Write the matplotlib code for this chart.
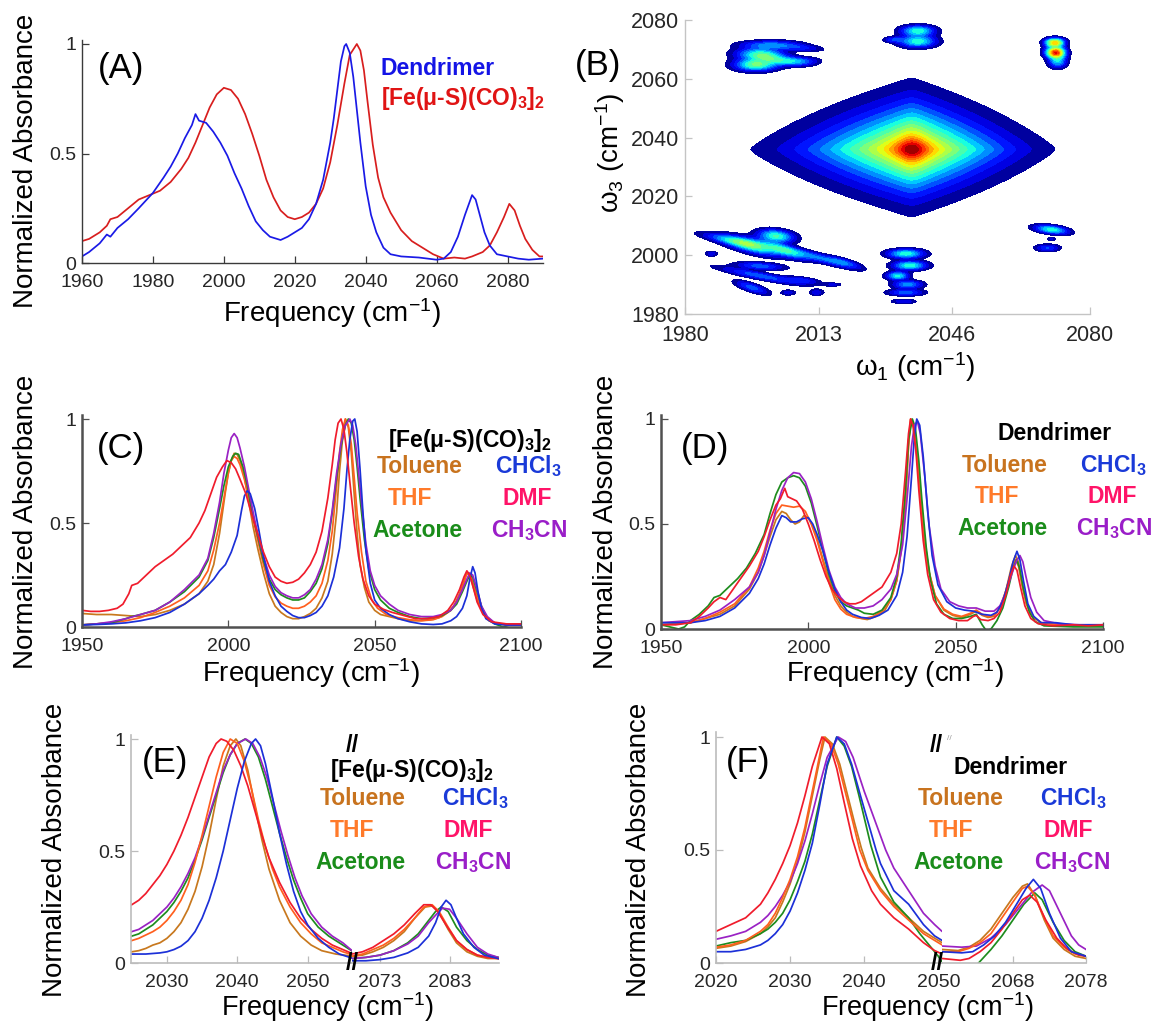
import numpy as np
import matplotlib
matplotlib.use('Agg')
import matplotlib.pyplot as plt

plt.rcParams['font.family'] = ['Liberation Sans', 'DejaVu Sans']
plt.rcParams['mathtext.default'] = 'regular'

# ---------------- (A) FTIR, dendrimer vs. parent complex ----------------
A_DENDRIMER = [(1960, 0.03), (1962, 0.05), (1965, 0.09), (1967, 0.13), (1968, 0.12), (1970, 0.16),
               (1973, 0.2), (1976, 0.25), (1980, 0.32), (1983, 0.39), (1985, 0.44), (1987, 0.5),
               (1989, 0.57), (1991, 0.63), (1992, 0.68), (1993, 0.65), (1995, 0.64), (1997, 0.6),
               (1999, 0.55), (2001, 0.49), (2003, 0.41), (2005, 0.34), (2007, 0.26), (2009, 0.19),
               (2011, 0.15), (2013, 0.12), (2015, 0.11), (2016, 0.105), (2018, 0.12), (2020, 0.14),
               (2022, 0.16), (2024, 0.2), (2026, 0.27), (2028, 0.38), (2030, 0.55), (2031, 0.66),
               (2032, 0.79), (2033, 0.92), (2034, 0.99), (2034.5, 1.0), (2035.5, 0.96), (2036.5, 0.85),
               (2037.5, 0.7), (2038.5, 0.55), (2040, 0.35), (2041.5, 0.22), (2043, 0.14), (2045, 0.07),
               (2047, 0.04), (2050, 0.03), (2055, 0.025), (2060, 0.015), (2062, 0.02), (2064, 0.05),
               (2066, 0.12), (2068, 0.22), (2070, 0.31), (2071, 0.29), (2072, 0.23), (2073.5, 0.14),
               (2075, 0.08), (2077, 0.04), (2080, 0.03), (2083, 0.02), (2086, 0.015), (2090, 0.02)]
A_COMPLEX = [(1960, 0.1), (1962, 0.11), (1965, 0.14), (1967, 0.17), (1968, 0.2), (1970, 0.21),
             (1973, 0.25), (1976, 0.29), (1979, 0.31), (1982, 0.33), (1985, 0.37), (1988, 0.43),
             (1990, 0.48), (1992, 0.55), (1994, 0.63), (1996, 0.71), (1998, 0.77), (2000, 0.8),
             (2002, 0.79), (2004, 0.75), (2006, 0.68), (2008, 0.59), (2010, 0.49), (2012, 0.38),
             (2014, 0.3), (2016, 0.24), (2018, 0.21), (2020, 0.2), (2022, 0.21), (2024, 0.23),
             (2026, 0.27), (2028, 0.34), (2030, 0.46), (2032, 0.63), (2034, 0.82), (2035.5, 0.95),
             (2037.5, 1.0), (2038.5, 0.97), (2039.5, 0.88), (2040.5, 0.74), (2042, 0.54),
             (2043.5, 0.39), (2045, 0.3), (2047, 0.23), (2050, 0.15), (2053, 0.1), (2056, 0.07),
             (2059, 0.04), (2062, 0.02), (2065, 0.025), (2068, 0.02), (2070, 0.03), (2073, 0.05),
             (2075, 0.08), (2077, 0.14), (2079, 0.21), (2080.5, 0.27), (2082, 0.24), (2083.5, 0.17),
             (2085, 0.11), (2087, 0.06), (2089, 0.03), (2090, 0.03)]

# ---------------- (B) 2D IR peaks: main diagonal peak + cross peaks ----------------
B_MAIN_CENTER = (2036.0, 2036.0)
B_MAIN_BASE_WIDTHS = (17.5, 15.5, 9.8, 10.4)   # left, right, down, up
B_MAIN_BASE_AMP = 0.6
B_MAIN_CORE_WIDTHS = (4.2, 3.8)                # omega1, omega3
B_MAIN_CORE_AMP = 0.4
# x0, y0, sx, sy, tilt (deg), amplitude
B_CROSS_PEAKS = [
    (1997.5, 2064.8, 3.5, 1.4, 0, 0.5), (1998.5, 2068.5, 4.0, 1.3, 0, 0.38),
    (2003.0, 2066.5, 4.0, 1.1, -10, 0.3), (2001.0, 2071.5, 5.0, 1.0, 0, 0.28),
    (2008.5, 2066.0, 3.0, 0.9, 0, 0.22), (2009.0, 2070.5, 3.5, 0.7, -5, 0.15),
    (2037.5, 2076.3, 2.8, 1.2, 0, 0.42), (2037.5, 2072.7, 3.0, 1.3, 0, 0.42),
    (2031.5, 2073.3, 1.6, 0.6, 0, 0.18),
    (2071.5, 2069.0, 1.6, 1.2, 0, 0.85), (2071.3, 2072.3, 1.6, 1.0, 0, 0.7),
    (2072.0, 2066.0, 1.5, 1.5, 0, 0.35),
    (2070.5, 2008.7, 2.8, 0.9, -10, 0.42), (2070.5, 2005.5, 0.8, 0.4, 0, 0.12),
    (2069.5, 2002.5, 2.0, 0.8, 0, 0.22),
    (2034.5, 2000.5, 3.0, 1.0, 0, 0.42), (2035.5, 1996.5, 2.8, 1.0, 0, 0.42),
    (2032.5, 1993.0, 1.8, 0.9, 0, 0.4), (2035.0, 1990.0, 2.5, 0.9, 0, 0.3),
    (2034.5, 1987.3, 3.0, 0.7, 0, 0.25), (2034.0, 1984.3, 2.0, 0.5, 0, 0.16),
    (1991.0, 2005.2, 5.0, 0.9, -15, 0.22), (1996.5, 2003.2, 5.0, 1.5, -20, 0.45),
    (2002.5, 2006.5, 3.0, 1.4, -10, 0.45), (2005.0, 2001.5, 4.0, 1.1, -25, 0.35),
    (2013.5, 1999.0, 5.5, 0.9, -22, 0.25), (2019.5, 1997.5, 3.0, 0.8, -22, 0.2),
    (1998.5, 1996.3, 4.0, 0.8, -5, 0.25), (1998.5, 1993.0, 7.0, 0.8, -15, 0.25),
    (2009.0, 1991.5, 3.0, 0.7, -10, 0.18), (1996.5, 1989.0, 3.0, 0.9, -25, 0.25),
    (1986.5, 2000.5, 1.0, 0.6, 0, 0.15), (2005.5, 1987.3, 1.2, 0.6, 0, 0.15),
    (2012.5, 1987.3, 1.2, 0.7, 0, 0.15), (2016.5, 1990.0, 1.5, 0.4, 0, 0.12),
]

# ---------------- (C) [Fe(mu-S)(CO)3]2 in six solvents ----------------
C_TOLUENE = [(1950, 0.065), (1955, 0.06), (1960, 0.06), (1965, 0.055), (1970, 0.05), (1975, 0.06),
             (1980, 0.08), (1985, 0.11), (1990, 0.16), (1993, 0.22), (1995, 0.3), (1997, 0.45),
             (1998, 0.55), (1999, 0.65), (2000, 0.74), (2001, 0.8), (2002, 0.835), (2003, 0.83),
             (2004, 0.8), (2005.5, 0.72), (2007, 0.6), (2008.5, 0.48), (2010, 0.38), (2012, 0.26),
             (2014, 0.16), (2016, 0.1), (2018, 0.07), (2020, 0.05), (2022, 0.04), (2024, 0.04),
             (2026, 0.05), (2028, 0.065), (2030, 0.09), (2032, 0.14), (2034, 0.22), (2035.5, 0.35),
             (2037, 0.55), (2038, 0.75), (2039, 0.9), (2040, 1.0), (2041, 0.96), (2042, 0.84),
             (2043, 0.64), (2044, 0.45), (2045, 0.3), (2046.5, 0.19), (2048, 0.12), (2050, 0.08),
             (2052, 0.06), (2055, 0.05), (2058, 0.04), (2062, 0.03), (2065, 0.03), (2069, 0.035),
             (2072, 0.045), (2075, 0.07), (2077, 0.1), (2079, 0.16), (2080.5, 0.22), (2081.5, 0.26),
             (2082.5, 0.25), (2083.5, 0.2), (2085, 0.13), (2087, 0.07), (2089, 0.03), (2092, 0.015),
             (2096, 0.01), (2100, 0.01)]
C_THF = [(1950, 0.01), (1955, 0.015), (1960, 0.02), (1965, 0.03), (1970, 0.045), (1975, 0.07),
         (1980, 0.1), (1985, 0.14), (1990, 0.2), (1993, 0.27), (1995, 0.37), (1997, 0.5),
         (1998.5, 0.62), (2000, 0.74), (2001, 0.8), (2002, 0.82), (2003, 0.81), (2004, 0.78),
         (2005.5, 0.71), (2007, 0.62), (2008.5, 0.52), (2010, 0.42), (2012, 0.3), (2014, 0.2),
         (2016, 0.145), (2018, 0.115), (2020, 0.1), (2022, 0.09), (2024, 0.09), (2026, 0.1),
         (2028, 0.12), (2030, 0.15), (2032, 0.21), (2034, 0.32), (2035.5, 0.46), (2037, 0.68),
         (2038, 0.84), (2039, 0.95), (2040, 1.0), (2041, 0.97), (2042, 0.88), (2043, 0.72),
         (2044, 0.55), (2045.5, 0.36), (2047, 0.22), (2049, 0.13), (2051, 0.09), (2054, 0.06),
         (2058, 0.045), (2062, 0.035), (2066, 0.03), (2070, 0.035), (2073, 0.05), (2076, 0.08),
         (2078, 0.12), (2080, 0.19), (2081.3, 0.25), (2082, 0.26), (2083, 0.24), (2084.5, 0.17),
         (2086, 0.1), (2088, 0.05), (2091, 0.02), (2095, 0.01), (2100, 0.01)]
C_ACETONE = [(1950, 0.01), (1955, 0.015), (1960, 0.02), (1965, 0.04), (1967, 0.05), (1970, 0.06),
             (1975, 0.08), (1980, 0.12), (1985, 0.17), (1990, 0.24), (1993, 0.32), (1995, 0.43),
             (1997, 0.57), (1998.5, 0.68), (2000, 0.77), (2001.5, 0.82), (2002.5, 0.835),
             (2003.5, 0.83), (2005, 0.77), (2006.5, 0.68), (2008, 0.56), (2010, 0.44), (2012, 0.32),
             (2014, 0.23), (2016, 0.18), (2018, 0.155), (2020, 0.14), (2022, 0.13), (2024, 0.13),
             (2026, 0.14), (2028, 0.17), (2030, 0.21), (2032, 0.28), (2034, 0.4), (2035.5, 0.55),
             (2037, 0.72), (2038.5, 0.87), (2040, 0.97), (2041, 1.0), (2042, 0.98), (2043, 0.9),
             (2044, 0.77), (2045, 0.62), (2046.5, 0.42), (2048, 0.28), (2050, 0.18), (2052, 0.13),
             (2055, 0.09), (2058, 0.07), (2062, 0.05), (2066, 0.04), (2070, 0.045), (2073, 0.055),
             (2076, 0.08), (2078, 0.11), (2080, 0.17), (2081.5, 0.22), (2082.5, 0.25),
             (2083.5, 0.24), (2085, 0.17), (2086.5, 0.1), (2088.5, 0.04), (2091, 0.015),
             (2094, 0.0), (2096, 0.01), (2100, 0.01)]
C_CHCL3 = [(1950, 0.01), (1955, 0.012), (1960, 0.015), (1965, 0.02), (1970, 0.03), (1975, 0.045),
           (1980, 0.07), (1985, 0.11), (1988, 0.14), (1990, 0.16), (1993, 0.2), (1995, 0.23),
           (1997, 0.27), (1999, 0.3), (2001, 0.36), (2003, 0.44), (2004.5, 0.56), (2005.5, 0.63),
           (2006.5, 0.655), (2007.5, 0.64), (2009, 0.57), (2010.5, 0.46), (2012, 0.34), (2014, 0.22),
           (2016, 0.15), (2018, 0.1), (2020, 0.075), (2022, 0.055), (2024, 0.045), (2026, 0.045),
           (2028, 0.055), (2030, 0.07), (2032, 0.1), (2034, 0.15), (2036, 0.24), (2038, 0.38),
           (2039.5, 0.57), (2040.5, 0.75), (2041.5, 0.9), (2042.5, 0.99), (2043.2, 1.0),
           (2044, 0.94), (2045, 0.76), (2046, 0.55), (2047, 0.37), (2048.5, 0.21), (2050, 0.13),
           (2052, 0.09), (2055, 0.06), (2058, 0.04), (2062, 0.025), (2066, 0.015), (2070, 0.012),
           (2073, 0.015), (2076, 0.03), (2078, 0.05), (2080, 0.09), (2081.5, 0.15), (2082.5, 0.23),
           (2083.5, 0.29), (2084.3, 0.26), (2085.3, 0.17), (2086.5, 0.09), (2088, 0.04),
           (2091, 0.015), (2095, 0.01), (2100, 0.01)]
C_DMF = [(1950, 0.08), (1953, 0.075), (1956, 0.075), (1959, 0.08), (1962, 0.09), (1964, 0.11),
         (1966, 0.16), (1967, 0.2), (1969, 0.21), (1972, 0.25), (1975, 0.29), (1978, 0.32),
         (1981, 0.35), (1984, 0.39), (1987, 0.43), (1990, 0.5), (1992, 0.56), (1994, 0.64),
         (1996, 0.72), (1998, 0.77), (1999.5, 0.8), (2001, 0.79), (2002.5, 0.76), (2004, 0.71),
         (2006, 0.64), (2008, 0.54), (2010, 0.45), (2012, 0.36), (2014, 0.29), (2016, 0.24),
         (2018, 0.22), (2020, 0.21), (2022, 0.215), (2024, 0.23), (2026, 0.26), (2028, 0.3),
         (2030, 0.36), (2032, 0.46), (2034, 0.62), (2035.5, 0.78), (2036.5, 0.9), (2037.5, 0.98),
         (2038.5, 1.0), (2039.5, 0.95), (2040.5, 0.84), (2041.5, 0.7), (2043, 0.5), (2044.5, 0.34),
         (2046, 0.23), (2048, 0.15), (2050, 0.11), (2053, 0.085), (2056, 0.07), (2060, 0.055),
         (2064, 0.04), (2068, 0.04), (2072, 0.05), (2075, 0.08), (2077, 0.12), (2079, 0.18),
         (2080.5, 0.24), (2081.5, 0.27), (2082.5, 0.25), (2083.5, 0.2), (2085, 0.12), (2087, 0.06),
         (2090, 0.025), (2095, 0.015), (2100, 0.015)]
C_CH3CN = [(1950, 0.01), (1955, 0.015), (1960, 0.025), (1965, 0.04), (1970, 0.06), (1975, 0.08),
           (1980, 0.12), (1985, 0.18), (1990, 0.25), (1993, 0.33), (1995, 0.45), (1997, 0.6),
           (1998.5, 0.74), (2000, 0.85), (2001, 0.91), (2002, 0.93), (2003, 0.91), (2004, 0.86),
           (2005.5, 0.77), (2007, 0.66), (2008.5, 0.55), (2010, 0.45), (2012, 0.34), (2014, 0.25),
           (2016, 0.195), (2018, 0.165), (2020, 0.15), (2022, 0.14), (2024, 0.14), (2026, 0.155),
           (2028, 0.18), (2030, 0.23), (2032, 0.3), (2034, 0.42), (2035.5, 0.56), (2037, 0.74),
           (2038.5, 0.88), (2040, 0.97), (2041.5, 1.0), (2042.5, 0.97), (2043.5, 0.88),
           (2044.5, 0.74), (2045.5, 0.6), (2047, 0.4), (2048.5, 0.27), (2050, 0.2), (2052, 0.15),
           (2055, 0.11), (2058, 0.08), (2062, 0.06), (2066, 0.05), (2070, 0.05), (2073, 0.06),
           (2076, 0.08), (2078, 0.12), (2080, 0.18), (2081.5, 0.23), (2082.5, 0.26), (2083.5, 0.25),
           (2085, 0.18), (2086.5, 0.1), (2088.5, 0.05), (2091, 0.02), (2095, 0.01), (2100, 0.01)]

# ---------------- (D) dendrimer in six solvents ----------------
D_TOLUENE = [(1950, 0.02), (1955, 0.025), (1960, 0.03), (1965, 0.05), (1970, 0.07), (1975, 0.11),
             (1980, 0.19), (1983, 0.27), (1985, 0.35), (1987, 0.44), (1989, 0.52), (1991, 0.56),
             (1992.5, 0.55), (1994, 0.52), (1995.5, 0.5), (1997, 0.51), (1998.5, 0.54), (2000, 0.53),
             (2001.5, 0.49), (2003, 0.43), (2005, 0.33), (2007, 0.24), (2009, 0.16), (2011, 0.11),
             (2013, 0.08), (2015, 0.06), (2018, 0.05), (2020, 0.045), (2023, 0.06), (2026, 0.09),
             (2028, 0.14), (2030, 0.23), (2031.5, 0.37), (2033, 0.61), (2034, 0.87), (2034.8, 1.0),
             (2035.8, 0.96), (2037, 0.8), (2038, 0.63), (2039.5, 0.41), (2041, 0.27), (2043, 0.16),
             (2046, 0.09), (2049, 0.065), (2052, 0.055), (2055, 0.07), (2057, 0.085), (2059, 0.065),
             (2061, 0.055), (2063, 0.06), (2065, 0.1), (2067, 0.18), (2069, 0.3), (2070.3, 0.35),
             (2071.3, 0.32), (2072.5, 0.22), (2074, 0.12), (2076, 0.06), (2079, 0.03), (2085, 0.02),
             (2092, 0.015), (2100, 0.02)]
D_THF = [(1950, 0.02), (1955, 0.025), (1960, 0.03), (1965, 0.05), (1970, 0.08), (1975, 0.12),
         (1980, 0.2), (1983, 0.29), (1985, 0.37), (1987, 0.47), (1989, 0.55), (1991, 0.59),
         (1993, 0.585), (1995, 0.58), (1997, 0.585), (1999, 0.56), (2001, 0.5), (2003, 0.42),
         (2005, 0.32), (2007, 0.22), (2009, 0.14), (2011, 0.095), (2013, 0.07), (2016, 0.055),
         (2019, 0.05), (2022, 0.06), (2025, 0.085), (2028, 0.14), (2030, 0.23), (2031.5, 0.38),
         (2033, 0.63), (2034, 0.88), (2034.7, 1.0), (2035.7, 0.97), (2037, 0.81), (2038, 0.64),
         (2039.5, 0.42), (2041, 0.27), (2043, 0.16), (2046, 0.095), (2049, 0.07), (2052, 0.06),
         (2055, 0.075), (2057, 0.09), (2059, 0.07), (2061, 0.06), (2063, 0.065), (2065, 0.1),
         (2067, 0.18), (2069, 0.28), (2070.3, 0.33), (2071.3, 0.3), (2072.5, 0.21), (2074, 0.12),
         (2076, 0.06), (2079, 0.03), (2085, 0.02), (2092, 0.015), (2100, 0.02)]
D_ACETONE = [(1950, 0.02), (1953, 0.01), (1956, 0.0), (1958, 0.01), (1960, 0.04), (1963, 0.07),
             (1966, 0.11), (1968, 0.15), (1970, 0.16), (1973, 0.2), (1976, 0.24), (1979, 0.29),
             (1982, 0.36), (1985, 0.45), (1987, 0.55), (1989, 0.64), (1991, 0.7), (1993, 0.72),
             (1995, 0.73), (1997, 0.72), (1999, 0.68), (2001, 0.6), (2003, 0.49), (2005, 0.37),
             (2007, 0.26), (2009, 0.18), (2011, 0.13), (2013, 0.11), (2015, 0.1), (2017, 0.09),
             (2019, 0.075), (2022, 0.07), (2025, 0.09), (2028, 0.15), (2030, 0.25), (2031.5, 0.41),
             (2033, 0.67), (2034, 0.9), (2035.3, 1.0), (2036.3, 0.96), (2037.5, 0.8),
             (2038.5, 0.62), (2040, 0.39), (2041.5, 0.23), (2043.5, 0.12), (2046, 0.07), (2049, 0.05),
             (2052, 0.05), (2055, 0.06), (2057, 0.07), (2059, 0.02), (2060.5, -0.01), (2062, 0.0),
             (2064, 0.04), (2066, 0.1), (2068, 0.2), (2069.5, 0.29), (2070.7, 0.33), (2071.7, 0.29),
             (2073, 0.19), (2075, 0.08), (2077, 0.035), (2080, 0.015), (2090, 0.01), (2100, 0.01)]
D_CHCL3 = [(1950, 0.03), (1955, 0.03), (1960, 0.03), (1965, 0.04), (1970, 0.06), (1975, 0.1),
           (1980, 0.17), (1983, 0.24), (1985, 0.31), (1987, 0.4), (1989, 0.48), (1991, 0.54),
           (1992.5, 0.53), (1994, 0.51), (1996, 0.51), (1998, 0.525), (2000, 0.53), (2001.5, 0.5),
           (2003, 0.45), (2005, 0.37), (2007, 0.27), (2009, 0.19), (2011, 0.13), (2013, 0.09),
           (2015, 0.07), (2018, 0.055), (2021, 0.05), (2024, 0.065), (2027, 0.09), (2030, 0.16),
           (2032, 0.27), (2033.5, 0.44), (2035, 0.72), (2036, 0.92), (2036.8, 1.0), (2037.8, 0.97),
           (2039, 0.82), (2040.5, 0.56), (2042, 0.35), (2044, 0.21), (2047, 0.13), (2050, 0.1),
           (2053, 0.09), (2056, 0.085), (2059, 0.07), (2062, 0.065), (2064, 0.08), (2066, 0.13),
           (2068, 0.23), (2069.5, 0.32), (2070.8, 0.37), (2071.8, 0.33), (2073, 0.23),
           (2074.5, 0.12), (2076.5, 0.06), (2079, 0.03), (2084, 0.03), (2090, 0.02), (2100, 0.02)]
D_DMF = [(1950, 0.02), (1955, 0.02), (1960, 0.03), (1963, 0.06), (1966, 0.1), (1968, 0.13),
         (1970, 0.15), (1972, 0.14), (1974, 0.18), (1977, 0.24), (1980, 0.3), (1983, 0.37),
         (1985, 0.44), (1987, 0.52), (1989, 0.59), (1990.5, 0.62), (1992, 0.67), (1993, 0.63),
         (1994.5, 0.62), (1996, 0.61), (1998, 0.57), (2000, 0.5), (2002, 0.42), (2004, 0.33),
         (2006, 0.25), (2008, 0.19), (2010, 0.155), (2012, 0.13), (2014, 0.12), (2016, 0.12),
         (2018, 0.13), (2020, 0.15), (2022, 0.17), (2025, 0.2), (2028, 0.27), (2030, 0.36),
         (2031.5, 0.5), (2033, 0.75), (2034, 0.93), (2034.7, 1.0), (2035.5, 0.97), (2036.5, 0.85),
         (2037.5, 0.66), (2039, 0.42), (2040.5, 0.26), (2042.5, 0.14), (2045, 0.08), (2048, 0.05),
         (2051, 0.04), (2054, 0.04), (2056, 0.06), (2057, 0.065), (2058.5, 0.045), (2061, 0.04),
         (2063, 0.05), (2065, 0.08), (2067, 0.16), (2068.5, 0.25), (2069.8, 0.3), (2070.8, 0.28),
         (2072, 0.2), (2073.5, 0.11), (2075.5, 0.05), (2078, 0.025), (2083, 0.015), (2090, 0.02),
         (2095, 0.015), (2100, 0.02)]
D_CH3CN = [(1950, 0.03), (1955, 0.035), (1960, 0.04), (1965, 0.06), (1970, 0.09), (1975, 0.14),
           (1980, 0.2), (1983, 0.27), (1985, 0.35), (1987, 0.46), (1989, 0.57), (1991, 0.66),
           (1993, 0.72), (1995, 0.745), (1997, 0.74), (1999, 0.7), (2001, 0.62), (2003, 0.51),
           (2005, 0.39), (2007, 0.28), (2009, 0.2), (2011, 0.15), (2013, 0.12), (2016, 0.1),
           (2019, 0.1), (2022, 0.11), (2025, 0.14), (2028, 0.19), (2030, 0.26), (2032, 0.4),
           (2033.5, 0.62), (2035, 0.87), (2036, 0.97), (2037, 0.99), (2038, 0.93), (2039.5, 0.73),
           (2041, 0.49), (2043, 0.3), (2045, 0.19), (2048, 0.13), (2051, 0.11), (2054, 0.1),
           (2057, 0.1), (2060, 0.085), (2063, 0.085), (2065, 0.11), (2067, 0.17), (2069, 0.26),
           (2070.5, 0.32), (2071.8, 0.35), (2072.8, 0.32), (2074, 0.24), (2075.5, 0.15),
           (2077.5, 0.08), (2080, 0.04), (2085, 0.025), (2092, 0.02), (2100, 0.02)]

# ---------------- (E) complex, zoom on the 2040 and 2080 bands ----------------
E_TOLUENE = [(2025, 0.05), (2026, 0.055), (2027, 0.065), (2028, 0.08), (2029, 0.09), (2030, 0.11),
             (2031, 0.14), (2032, 0.18), (2033, 0.24), (2034, 0.32), (2035, 0.43), (2036, 0.57),
             (2037, 0.73), (2038, 0.88), (2039, 0.97), (2039.8, 1.0), (2040.5, 0.97), (2041.5, 0.86),
             (2042.5, 0.7), (2043.5, 0.55), (2044.5, 0.42), (2046, 0.28), (2047.5, 0.18),
             (2049, 0.12), (2050.5, 0.08), (2052, 0.055), (2054, 0.04), (2056.5, 0.03),
             (2069, 0.03), (2070.5, 0.035), (2072, 0.05), (2073.5, 0.07), (2075, 0.1),
             (2076.5, 0.14), (2078, 0.2), (2079.5, 0.25), (2080.6, 0.255), (2081.6, 0.22),
             (2082.8, 0.15), (2084, 0.09), (2085.5, 0.05), (2087, 0.03), (2088.5, 0.02), (2090, 0.02)]
E_THF = [(2025, 0.1), (2026, 0.11), (2027, 0.125), (2028, 0.14), (2029, 0.16), (2030, 0.19),
         (2031, 0.23), (2032, 0.28), (2033, 0.35), (2034, 0.45), (2035, 0.57), (2036, 0.7),
         (2037, 0.83), (2038, 0.94), (2039, 1.0), (2040, 0.98), (2041, 0.9), (2042, 0.78),
         (2043, 0.64), (2044, 0.52), (2045, 0.42), (2046, 0.34), (2047.5, 0.25), (2049, 0.18),
         (2050.5, 0.13), (2052, 0.09), (2053.5, 0.07), (2055, 0.05), (2056.5, 0.035), (2069, 0.03),
         (2070.5, 0.04), (2072, 0.06), (2073.5, 0.08), (2075, 0.11), (2076.5, 0.15), (2078, 0.2),
         (2079.3, 0.25), (2080.5, 0.26), (2081.5, 0.23), (2082.8, 0.16), (2084, 0.1),
         (2085.5, 0.06), (2087, 0.035), (2088.5, 0.025), (2090, 0.02)]
E_ACETONE = [(2025, 0.12), (2026, 0.13), (2027, 0.15), (2028, 0.17), (2029, 0.2), (2030, 0.23),
             (2031, 0.27), (2032, 0.32), (2033, 0.38), (2034, 0.46), (2035, 0.55), (2036, 0.65),
             (2037, 0.75), (2038, 0.85), (2039, 0.93), (2040, 0.98), (2041.1, 1.0), (2042, 0.98),
             (2043, 0.92), (2044, 0.82), (2045, 0.7), (2046, 0.58), (2047, 0.47), (2048, 0.37),
             (2049, 0.29), (2050, 0.22), (2051.5, 0.16), (2053, 0.12), (2054.5, 0.09),
             (2056.5, 0.05), (2069, 0.02), (2071, 0.025), (2073, 0.035), (2075, 0.055),
             (2077, 0.09), (2078.5, 0.13), (2080, 0.19), (2081, 0.23), (2081.8, 0.25),
             (2082.8, 0.23), (2084, 0.16), (2085.5, 0.1), (2087, 0.06), (2088.5, 0.035),
             (2090, 0.025)]
E_CHCL3 = [(2025, 0.04), (2027, 0.04), (2029, 0.045), (2030, 0.05), (2031, 0.06), (2032, 0.075),
           (2033, 0.1), (2034, 0.14), (2035, 0.2), (2036, 0.28), (2037, 0.38), (2038, 0.5),
           (2039, 0.64), (2040, 0.78), (2041, 0.9), (2042, 0.98), (2042.6, 1.0), (2043.3, 0.97),
           (2044, 0.89), (2045, 0.74), (2046, 0.58), (2047, 0.44), (2048, 0.32), (2049, 0.23),
           (2050, 0.17), (2051.5, 0.11), (2053, 0.07), (2054.5, 0.04), (2056.5, 0.02),
           (2069, 0.01), (2071, 0.01), (2073, 0.015), (2075, 0.025), (2077, 0.045), (2078.5, 0.07),
           (2080, 0.12), (2081, 0.18), (2081.8, 0.25), (2082.5, 0.28), (2083.2, 0.26), (2084, 0.2),
           (2085, 0.13), (2086.5, 0.07), (2088, 0.035), (2090, 0.02)]
E_DMF = [(2025, 0.26), (2026, 0.28), (2027, 0.31), (2028, 0.35), (2029, 0.39), (2030, 0.44),
         (2031, 0.5), (2032, 0.57), (2033, 0.65), (2034, 0.74), (2035, 0.83), (2036, 0.92),
         (2037, 0.98), (2037.7, 1.0), (2038.5, 0.99), (2039.5, 0.95), (2040.5, 0.88), (2041.5, 0.79),
         (2042.5, 0.68), (2043.5, 0.57), (2044.5, 0.47), (2046, 0.36), (2047.5, 0.27), (2049, 0.2),
         (2050.5, 0.15), (2052, 0.11), (2053.5, 0.08), (2055, 0.06), (2056.5, 0.04), (2069, 0.04),
         (2070.5, 0.05), (2072, 0.07), (2073.5, 0.1), (2075, 0.13), (2076.5, 0.17), (2078, 0.22),
         (2079.3, 0.26), (2080.3, 0.26), (2081.3, 0.23), (2082.5, 0.17), (2084, 0.1),
         (2085.5, 0.06), (2087, 0.035), (2088.5, 0.025), (2090, 0.02)]
E_CH3CN = [(2025, 0.14), (2026, 0.15), (2027, 0.17), (2028, 0.19), (2029, 0.22), (2030, 0.25),
           (2031, 0.29), (2032, 0.34), (2033, 0.4), (2034, 0.47), (2035, 0.56), (2036, 0.66),
           (2037, 0.76), (2038, 0.86), (2039, 0.93), (2040, 0.98), (2041.2, 1.0), (2042.2, 0.98),
           (2043.2, 0.92), (2044.2, 0.83), (2045.2, 0.71), (2046.2, 0.59), (2047.2, 0.48),
           (2048.2, 0.38), (2049.2, 0.3), (2050.5, 0.22), (2052, 0.16), (2053.5, 0.12),
           (2055, 0.09), (2056.5, 0.05), (2069, 0.02), (2071, 0.025), (2073, 0.035), (2075, 0.055),
           (2077, 0.085), (2078.5, 0.12), (2080, 0.18), (2081.2, 0.22), (2082, 0.245), (2083, 0.24),
           (2084, 0.2), (2085.5, 0.13), (2087, 0.07), (2088.5, 0.04), (2090, 0.025)]

# ---------------- (F) dendrimer, zoom on the 2035 and 2070 bands ----------------
F_TOLUENE = [(2020, 0.065), (2022, 0.075), (2024, 0.095), (2026, 0.13), (2027, 0.16), (2028, 0.2),
             (2029, 0.27), (2030, 0.35), (2031, 0.45), (2032, 0.58), (2033, 0.74), (2034, 0.9),
             (2034.7, 1.0), (2035.7, 0.97), (2036.7, 0.88), (2037.7, 0.75), (2038.7, 0.62),
             (2039.6, 0.51), (2040.5, 0.42), (2042.2, 0.33), (2044, 0.26), (2046, 0.2),
             (2048, 0.14), (2049.5, 0.11), (2050.5, 0.09), (2058.3, 0.06), (2060.5, 0.055),
             (2062, 0.07), (2063.5, 0.1), (2065, 0.15), (2066.5, 0.22), (2068, 0.29),
             (2069.3, 0.34), (2070, 0.35), (2071, 0.3), (2072.3, 0.19), (2073.5, 0.11),
             (2075, 0.06), (2076.5, 0.03), (2078, 0.02)]
F_THF = [(2020, 0.07), (2022, 0.08), (2024, 0.1), (2026, 0.14), (2027, 0.17), (2028, 0.22),
         (2029, 0.29), (2030, 0.37), (2031, 0.47), (2032, 0.6), (2033, 0.76), (2034, 0.92),
         (2034.5, 1.0), (2035.5, 0.97), (2036.5, 0.88), (2037.5, 0.75), (2038.5, 0.62),
         (2039.4, 0.5), (2040.5, 0.41), (2042.2, 0.32), (2044, 0.25), (2046, 0.19), (2048, 0.13),
         (2049.5, 0.1), (2050.5, 0.08), (2058.3, 0.05), (2060.5, 0.05), (2062, 0.065),
         (2063.5, 0.09), (2065, 0.13), (2066.5, 0.2), (2068, 0.27), (2069.3, 0.33), (2070, 0.34),
         (2071, 0.3), (2072.3, 0.2), (2073.5, 0.12), (2075, 0.07), (2076.5, 0.04), (2078, 0.03)]
F_ACETONE = [(2020, 0.075), (2022, 0.09), (2024, 0.1), (2026, 0.13), (2027, 0.15), (2028, 0.18),
             (2029, 0.22), (2030, 0.28), (2031, 0.36), (2032, 0.45), (2033, 0.57), (2034, 0.72),
             (2035, 0.87), (2036.3, 1.0), (2037.3, 0.96), (2038.3, 0.87), (2039.3, 0.74),
             (2040.9, 0.52), (2042.2, 0.38), (2044, 0.27), (2046, 0.2), (2047.5, 0.13),
             (2049, 0.07), (2050, 0.03), (2050.8, -0.01), (2062.5, -0.02), (2063.3, 0.0),
             (2065, 0.06), (2066.5, 0.12), (2068, 0.19), (2069.5, 0.26), (2071, 0.31),
             (2072, 0.28), (2073.5, 0.18), (2075, 0.1), (2076.5, 0.05), (2078, 0.03)]
F_CHCL3 = [(2020, 0.05), (2022, 0.05), (2024, 0.06), (2026, 0.08), (2027, 0.1), (2028, 0.13),
           (2029, 0.17), (2030, 0.23), (2031, 0.31), (2032, 0.41), (2033, 0.53), (2034, 0.7),
           (2035, 0.88), (2036.3, 1.0), (2037.3, 0.97), (2038.3, 0.88), (2039.5, 0.74),
           (2041.6, 0.5), (2042.2, 0.44), (2044, 0.32), (2046, 0.26), (2048, 0.17), (2049.5, 0.12),
           (2050.5, 0.1), (2058.3, 0.05), (2061, 0.045), (2062.5, 0.05), (2064, 0.08),
           (2065.5, 0.12), (2067, 0.18), (2068.5, 0.26), (2069.8, 0.33), (2070.8, 0.37),
           (2071.8, 0.33), (2073, 0.22), (2074.5, 0.11), (2076, 0.05), (2078, 0.03)]
F_DMF = [(2020, 0.14), (2022, 0.17), (2024, 0.2), (2026, 0.26), (2027, 0.31), (2028, 0.37),
         (2029, 0.44), (2030, 0.52), (2031, 0.62), (2032, 0.74), (2033, 0.87), (2034, 0.97),
         (2034.3, 1.0), (2035.3, 0.97), (2036.3, 0.86), (2037.3, 0.71), (2038.4, 0.55),
         (2039.5, 0.43), (2041, 0.32), (2042.2, 0.26), (2044, 0.2), (2046, 0.15), (2048, 0.09),
         (2049.5, 0.055), (2050.5, 0.04), (2058.3, 0.02), (2060.8, 0.012), (2062, 0.02),
         (2063.5, 0.05), (2065, 0.09), (2066.5, 0.15), (2068, 0.22), (2069.3, 0.28), (2070.3, 0.3),
         (2071.3, 0.27), (2072.5, 0.19), (2074, 0.11), (2075.5, 0.06), (2077, 0.035), (2078, 0.03)]
F_CH3CN = [(2020, 0.105), (2022, 0.12), (2024, 0.14), (2026, 0.18), (2027, 0.21), (2028, 0.25),
           (2029, 0.3), (2030, 0.36), (2031, 0.44), (2032, 0.54), (2033, 0.66), (2034, 0.79),
           (2035, 0.91), (2036.5, 1.0), (2037.5, 0.98), (2038.5, 0.91), (2040, 0.76), (2042.9, 0.5),
           (2044, 0.42), (2046, 0.32), (2048, 0.22), (2049.5, 0.17), (2050.5, 0.14), (2058.3, 0.075),
           (2061, 0.07), (2063, 0.075), (2065, 0.11), (2067, 0.17), (2069, 0.25), (2070.5, 0.31),
           (2072, 0.345), (2073, 0.32), (2074.5, 0.22), (2076, 0.12), (2077, 0.08), (2078, 0.06)]

SOLVENTS = ['Toluene', 'THF', 'Acetone', 'CHCl3', 'DMF', 'CH3CN']
SOLVENT_LABELS = {'Toluene': 'Toluene', 'THF': 'THF', 'Acetone': 'Acetone',
                  'CHCl3': 'CHCl$_3$', 'DMF': 'DMF', 'CH3CN': 'CH$_3$CN'}
LINE_COLORS = {'Toluene': '#c8781e', 'THF': '#ff5f1e', 'Acetone': '#1e8c1e',
               'CHCl3': '#1c30d8', 'DMF': '#f01c2c', 'CH3CN': '#9a22c4'}
TEXT_COLORS = {'Toluene': '#c8731e', 'THF': '#ff7a2a', 'Acetone': '#1a8c1a',
               'CHCl3': '#1a3ad8', 'DMF': '#ff1468', 'CH3CN': '#9a1ec8'}

C_SPECTRA = dict(zip(SOLVENTS, [C_TOLUENE, C_THF, C_ACETONE, C_CHCL3, C_DMF, C_CH3CN]))
D_SPECTRA = dict(zip(SOLVENTS, [D_TOLUENE, D_THF, D_ACETONE, D_CHCL3, D_DMF, D_CH3CN]))
E_SPECTRA = dict(zip(SOLVENTS, [E_TOLUENE, E_THF, E_ACETONE, E_CHCL3, E_DMF, E_CH3CN]))
F_SPECTRA = dict(zip(SOLVENTS, [F_TOLUENE, F_THF, F_ACETONE, F_CHCL3, F_DMF, F_CH3CN]))

COMPLEX_LABEL = '[Fe(μ-S)(CO)$_3$]$_2$'
FREQ_LABEL = 'Frequency (cm$^{-1}$)'
ABS_LABEL = 'Normalized Absorbance'

W, H = 1159, 1026
fig = plt.figure(figsize=(W / 100, H / 100), dpi=100)
fig.patch.set_facecolor('white')


def axes_px(x_left, x_right, y_top, y_bottom):
    return fig.add_axes([x_left / W, 1 - y_bottom / H, (x_right - x_left) / W, (y_bottom - y_top) / H])


def spectrum_axes(x_left, x_right, y_zero, y_one, ytop=1.02):
    y_top = y_zero - ytop * (y_zero - y_one)
    ax = axes_px(x_left, x_right, y_top, y_zero)
    ax.set_ylim(0, ytop)
    return ax


def ftext(x, y, s, **kw):
    return fig.text(x / W, 1 - y / H, s, **kw)


def style(ax, color, lw, left=True, labelsize=14):
    for side in ('top', 'right'):
        ax.spines[side].set_visible(False)
    ax.spines['bottom'].set_color(color)
    ax.spines['bottom'].set_linewidth(lw)
    if left:
        ax.spines['left'].set_color(color)
        ax.spines['left'].set_linewidth(lw)
    else:
        ax.spines['left'].set_visible(False)
        ax.set_yticks([])
    ax.tick_params(direction='in', length=5, width=0.9, color=color,
                   labelcolor='#262626', labelsize=labelsize)
    ax.tick_params(axis='x', pad=8)
    ax.tick_params(axis='y', pad=4)
    ax.patch.set_alpha(0)


def set_abs_ticks(ax):
    ax.set_yticks([0, 0.5, 1])
    ax.set_yticklabels(['0', '0.5', '1'])


def plot_curve(ax, pts, color):
    x, y = np.array(pts).T
    ax.plot(x, y, color=color, lw=1.25)


def legend_block(header, header_xy, entries):
    ftext(*header_xy, header, color='black', ha='center', va='baseline',
          fontsize=16.5, fontweight='bold')
    for name, (x, y) in entries.items():
        ftext(x, y, SOLVENT_LABELS[name], color=TEXT_COLORS[name], ha='center',
              va='baseline', fontsize=16.5, fontweight='bold')


def ylab(x, y, s):
    ftext(x, y, s, rotation=90, ha='center', va='center', fontsize=20)


def xlab(x, y, s, size=20):
    ftext(x, y, s, ha='center', va='center', fontsize=size)


def letter(x, y, s):
    ftext(x, y, s, ha='left', va='baseline', fontsize=25)


# ---- (A)
axA = spectrum_axes(82, 543, 263, 44)
style(axA, '#3a3a3a', 1.0)
plot_curve(axA, A_COMPLEX, '#d81e1e')
plot_curve(axA, A_DENDRIMER, '#1a1ae6')
axA.set_xlim(1960, 2090)
axA.set_xticks(np.arange(1960, 2081, 20))
set_abs_ticks(axA)
letter(98, 78, '(A)')
ftext(381, 75, 'Dendrimer', color='#1414e6', fontsize=16.5, fontweight='bold', va='baseline')
ftext(381, 105, COMPLEX_LABEL, color='#e01414', fontsize=16.5, fontweight='bold', va='baseline')
ylab(26, 161, ABS_LABEL)
xlab(332, 313, FREQ_LABEL)

# ---- (B)
axB = axes_px(685, 1090, 20, 314)
style(axB, '#c4c4c4', 1.0, labelsize=15.5)
grid = np.linspace(1980, 2080, 501)
X, Y = np.meshgrid(grid, grid)
cx, cy = B_MAIN_CENTER
wl, wr, wd, wu = B_MAIN_BASE_WIDTHS
u = np.abs(X - cx) / np.where(X < cx, wl, wr)
v = np.abs(Y - cy) / np.where(Y < cy, wd, wu)
s = (u ** 1.25 + v ** 1.25) ** (1 / 1.25)
Z = B_MAIN_BASE_AMP * np.exp(-0.5 * s ** 2)
gx, gy = B_MAIN_CORE_WIDTHS
Z += B_MAIN_CORE_AMP / ((1 + ((X - cx) / gx) ** 2) * (1 + ((Y - cy) / gy) ** 2))
for x0, y0, sx, sy, ang, amp in B_CROSS_PEAKS:
    t = np.deg2rad(ang)
    du = (X - x0) * np.cos(t) + (Y - y0) * np.sin(t)
    dv = -(X - x0) * np.sin(t) + (Y - y0) * np.cos(t)
    Z += amp * np.exp(-0.5 * ((du / sx) ** 2 + (dv / sy) ** 2))
axB.contourf(X, Y, Z, levels=np.linspace(0.05, Z.max(), 18), cmap='jet')
axB.set_xlim(1980, 2080)
axB.set_ylim(1980, 2080)
axB.set_xticks([1980, 2013, 2046, 2080])
axB.set_yticks(np.arange(1980, 2081, 20))
letter(575, 75, '(B)')
ylab(610, 153, 'ω$_3$ (cm$^{-1}$)')
xlab(915, 367, 'ω$_1$ (cm$^{-1}$)')

# ---- (C)
axC = spectrum_axes(82, 521, 627, 419)
style(axC, '#505050', 1.8)
for name in ['Toluene', 'THF', 'Acetone', 'CH3CN', 'CHCl3', 'DMF']:
    plot_curve(axC, C_SPECTRA[name], LINE_COLORS[name])
axC.set_xlim(1950, 2100)
axC.set_xticks([1950, 2000, 2050, 2100])
set_abs_ticks(axC)
letter(97, 458, '(C)')
legend_block(COMPLEX_LABEL, (470, 447),
             {'Toluene': (420, 473), 'CHCl3': (528, 473), 'THF': (410, 505),
              'DMF': (527, 505), 'Acetone': (417, 537), 'CH3CN': (529, 537)})
ylab(26, 522, ABS_LABEL)
xlab(311, 673, FREQ_LABEL)

# ---- (D)
axD = spectrum_axes(661, 1103, 629, 419)
style(axD, '#505050', 1.8)
for name in ['Toluene', 'THF', 'Acetone', 'CH3CN', 'CHCl3', 'DMF']:
    plot_curve(axD, D_SPECTRA[name], LINE_COLORS[name])
axD.set_xlim(1950, 2100)
axD.set_xticks([1950, 2000, 2050, 2100])
set_abs_ticks(axD)
letter(681, 458, '(D)')
legend_block('Dendrimer', (1055, 440),
             {'Toluene': (1005, 472), 'CHCl3': (1113, 472), 'THF': (997, 503),
              'DMF': (1112, 503), 'Acetone': (1002, 535), 'CH3CN': (1114, 535)})
ylab(606, 522, ABS_LABEL)
xlab(895, 673, FREQ_LABEL)


# ---- (E) and (F): broken frequency axis, one axes per segment
def broken_panel(spectra, x_px, lims, y_zero, y_one, ticks):
    (xl, xb, xr), (left_lim, right_lim) = x_px, lims
    ax1 = spectrum_axes(xl, xb, y_zero, y_one)
    ax2 = spectrum_axes(xb, xr, y_zero, y_one)
    style(ax1, '#bcbcbc', 1.2)
    style(ax2, '#bcbcbc', 1.2, left=False)
    for ax, lim, tk in ((ax1, left_lim, ticks[0]), (ax2, right_lim, ticks[1])):
        for name in ['Toluene', 'Acetone', 'CH3CN', 'THF', 'DMF', 'CHCl3']:
            plot_curve(ax, spectra[name], LINE_COLORS[name])
        ax.set_xlim(*lim)
        ax.set_xticks(tk)
    set_abs_ticks(ax1)
    return ax1, ax2


broken_panel(E_SPECTRA, (131, 352, 499), ((2024.9, 2056.3), (2069.0, 2090.1)), 963, 739,
             ([2030, 2040, 2050], [2073, 2083]))
ftext(352, 745, '//', ha='center', va='center', fontsize=17, fontweight='bold')
ftext(352, 963, '//', ha='center', va='center', fontsize=17, fontweight='bold')
letter(142, 772, '(E)')
legend_block(COMPLEX_LABEL, (412, 777),
             {'Toluene': (363, 805), 'CHCl3': (475, 805), 'THF': (352, 837),
              'DMF': (468, 837), 'Acetone': (360, 869), 'CH3CN': (473, 869)})
ylab(55, 850, ABS_LABEL)
xlab(327, 1007, FREQ_LABEL, size=19.5)

broken_panel(F_SPECTRA, (716, 942, 1086), ((2020, 2050.5), (2058.3, 2078)), 963, 737,
             ([2020, 2030, 2040, 2050], [2068, 2078]))
ftext(936, 745, '//', ha='center', va='center', fontsize=17, fontweight='bold')
ftext(949, 739, '//', ha='center', va='center', fontsize=6, color='#999999')
ftext(937, 963, '//', ha='center', va='center', fontsize=17, fontweight='bold')
letter(726, 772, '(F)')
legend_block('Dendrimer', (1011, 774),
             {'Toluene': (961, 805), 'CHCl3': (1073, 805), 'THF': (951, 837),
              'DMF': (1068, 837), 'Acetone': (958, 869), 'CH3CN': (1072, 869)})
ylab(639, 850, ABS_LABEL)
xlab(927, 1007, FREQ_LABEL, size=19.5)

fig.savefig('out.png', dpi=100, facecolor='white')
